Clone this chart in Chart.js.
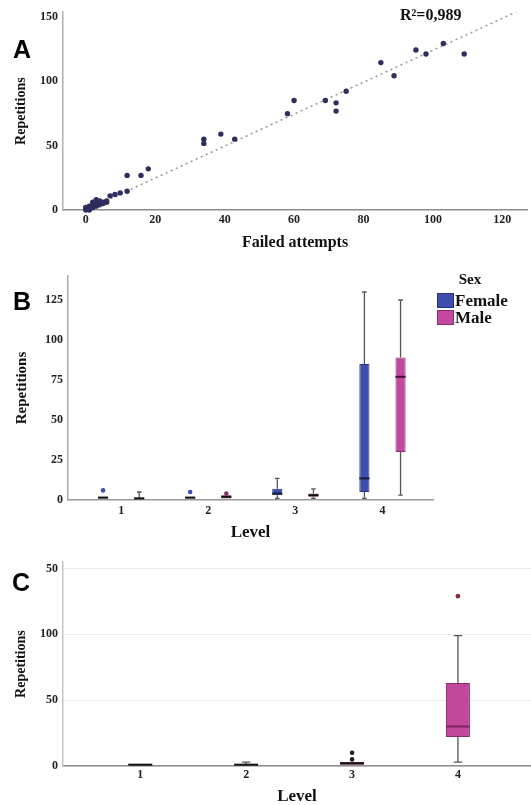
<!DOCTYPE html>
<html><head><meta charset="utf-8">
<script src="https://cdn.jsdelivr.net/npm/chart.js@4.4.1/dist/chart.umd.min.js"></script>
<style>
html,body{margin:0;padding:0;background:#fff;}
body{width:531px;height:805px;position:relative;overflow:hidden;}
.panel{position:absolute;left:0;width:531px;}
.lab{position:absolute;font-family:"Liberation Sans",Arial,sans-serif;font-weight:bold;font-size:25px;line-height:25px;color:#000;}
.serif{position:absolute;font-family:"Liberation Serif",serif;font-weight:bold;color:#111;white-space:nowrap;}
.sw{position:absolute;width:15px;height:13px;}
</style></head><body>
<div class="panel" style="top:0;height:258px"><canvas id="cA" width="531" height="258"></canvas></div>
<div class="panel" style="top:260px;height:288px"><canvas id="cB" width="531" height="288"></canvas></div>
<div class="panel" style="top:550px;height:255px"><canvas id="cC" width="531" height="255"></canvas></div>

<div class="lab" style="left:13px;top:37px">A</div>
<div class="lab" style="left:13px;top:289px">B</div>
<div class="lab" style="left:12px;top:570px">C</div>

<div class="serif" style="left:400px;top:7px;font-size:16px;line-height:16px">R²=0,989</div>

<div class="serif" style="left:440px;top:272px;width:60px;text-align:center;font-size:15px;line-height:15px">Sex</div>
<div class="sw" style="left:437px;top:293px;background:#3d4fae;border:1px solid #26337a"></div>
<div class="sw" style="left:437px;top:310px;background:#c4489e;border:1px solid #8a2e6e"></div>
<div class="serif" style="left:455px;top:292px;font-size:17px;line-height:17px">Female</div>
<div class="serif" style="left:455px;top:309px;font-size:17px;line-height:17px">Male</div>

<script>
// ---------- Panel A data ----------
const failedAttempts = [0,0,0,1,1,1,1,2,2,2,2,3,3,3,3,3,4,4,4,4,5,5,6,6,7,8.4,9.9,11.9,11.9,15.9,18,34,34,38.9,42.9,58.1,60,69,72.1,72.1,75,85,88.8,95.1,98,103,109];
const repetitionsA = [0,1,2,0,1,2,3,2,3,4,6,3,4,5,7,8,4,5,6,7,5,6,6,7,11,12,13.3,14.6,26.9,26.9,32,51.8,55.1,59,55.1,74.9,85.1,85.1,83.3,76.9,92.3,114.6,104.4,124.4,121.3,129.5,121.3];
const trendX = [0, 124];
const trendY = [0, 154];
const xTicksA = [0,20,40,60,80,100,120];
const yTicksA = [0,50,100,150];

// ---------- Panel B data ----------
const levels = [1,2,3,4];
const femaleQ1 = [1,1,3,5];
const femaleQ3 = [2,2,7,85];
const femaleMedian = [1.5,1.5,4,13.5];
const femaleLow = [1,1,1,1];
const femaleHigh = [2,2,13.5,130];
const femaleOutliers = [[6],[5],[],[]];
const maleQ1 = [0.5,1,2,30];
const maleQ3 = [1.5,3,4,89];
const maleMedian = [1,2,3,77];
const maleLow = [0.5,1,1,3];
const maleHigh = [5,3,7,125];
const maleOutliers = [[],[4],[],[]];
const yTicksB = [0,25,50,75,100,125];

// ---------- Panel C data ----------
const allQ1 = [1,1,1,22];
const allQ3 = [1.5,1.5,3,63];
const allMedian = [1,1,2,30];
const allLow = [1,1,1,3];
const allHigh = [1,3,3,99];
const allOutliers = [[],[],[5,10],[129]];
const yTicksC = [0,50,100,150];
const yTickLabelsC = ['0','50','100','50'];

Chart.defaults.font.family = '"Liberation Serif", serif';
Chart.defaults.font.weight = 'bold';
Chart.defaults.color = '#222';
Chart.defaults.animation = false;

const boxPlugin = {
  id: 'boxWhisker',
  beforeDatasetsDraw(chart) {
    const ctx = chart.ctx, ys = chart.scales.y;
    chart.data.datasets.forEach((ds, i) => {
      if (!ds.stats) return;
      const s = ds.stats;
      chart.getDatasetMeta(i).data.forEach((bar, j) => {
        const x = bar.x, w = bar.width, cw = w * ds.capRatio;
        const pLow = ys.getPixelForValue(s.low[j]), pHigh = ys.getPixelForValue(s.high[j]);
        const pQ1 = ys.getPixelForValue(s.q1[j]), pQ3 = ys.getPixelForValue(s.q3[j]);
        ctx.save();
        ctx.strokeStyle = ds.whiskerColor; ctx.lineWidth = 1.3;
        ctx.beginPath();
        if (s.high[j] > s.q3[j]) {
          ctx.moveTo(x, pQ3); ctx.lineTo(x, pHigh);
          ctx.moveTo(x - cw/2, pHigh); ctx.lineTo(x + cw/2, pHigh);
        }
        if (s.low[j] < s.q1[j]) {
          ctx.moveTo(x, pQ1); ctx.lineTo(x, pLow);
          ctx.moveTo(x - cw/2, pLow); ctx.lineTo(x + cw/2, pLow);
        }
        ctx.stroke();
        ctx.restore();
      });
    });
  },
  afterDatasetsDraw(chart) {
    const ctx = chart.ctx, ys = chart.scales.y;
    chart.data.datasets.forEach((ds, i) => {
      if (!ds.stats) return;
      const s = ds.stats;
      chart.getDatasetMeta(i).data.forEach((bar, j) => {
        const x = bar.x, w = bar.width;
        const pMed = ys.getPixelForValue(s.median[j]);
        ctx.save();
        const collapsed = (s.q3[j] - s.q1[j]) < 4;
        ctx.strokeStyle = collapsed ? '#111' : ds.medianColor;
        ctx.lineWidth = 2;
        ctx.beginPath(); ctx.moveTo(x - w/2, pMed); ctx.lineTo(x + w/2, pMed); ctx.stroke();
        (s.outliers[j] || []).forEach(v => {
          ctx.fillStyle = ds.outlierColors[j];
          ctx.beginPath(); ctx.arc(x, ys.getPixelForValue(v), 2.3, 0, Math.PI*2); ctx.fill();
        });
        ctx.restore();
      });
    });
  }
};

function tickSetter(arr) { return s => { s.ticks = arr.map(v => ({ value: v })); }; }

// ---------- Chart A ----------
new Chart(document.getElementById('cA'), {
  type: 'scatter',
  data: {
    datasets: [
      { data: failedAttempts.map((x, i) => ({ x, y: repetitionsA[i] })),
        pointRadius: 2.7, pointBackgroundColor: '#2d2d5e', pointBorderWidth: 0, clip: false, order: 0 },
      { type: 'line', data: trendX.map((x, i) => ({ x, y: trendY[i] })),
        borderColor: '#9a9a9a', borderWidth: 1.6, borderDash: [2, 3.5], pointRadius: 0, order: 1 }
    ]
  },
  options: {
    responsive: false,
    layout: { padding: { top: 10, right: 0, left: 0, bottom: 0 } },
    plugins: { legend: { display: false }, tooltip: { enabled: false } },
    scales: {
      x: { type: 'linear', min: -6.57, max: 127.1, afterBuildTicks: tickSetter(xTicksA),
        grid: { display: false, drawTicks: false }, border: { display: true, color: '#8c8c8c', width: 1.5 },
        ticks: { padding: 3, font: { size: 12, weight: 'bold' }, color: '#222' },
        title: { display: true, text: 'Failed attempts', font: { size: 16, weight: 'bold' }, color: '#111', padding: { top: 0, bottom: 6 } },
        afterFit: s => { s.height = 48; } },
      y: { type: 'linear', min: 0, max: 153.8, afterBuildTicks: tickSetter(yTicksA),
        grid: { display: false, drawTicks: false }, border: { display: true, color: '#b0b0b0', width: 1.5 },
        ticks: { padding: 5, font: { size: 12, weight: 'bold' }, color: '#222' },
        title: { display: true, text: 'Repetitions', font: { size: 14, weight: 'bold' }, color: '#111', padding: { top: 13, bottom: 0 } },
        afterFit: s => { s.width = 63; } }
    }
  }
});

// ---------- Chart B ----------
new Chart(document.getElementById('cB'), {
  type: 'bar',
  data: {
    datasets: [
      { label: 'Female', data: levels.map((l, i) => ({ x: l, y: [femaleQ1[i], femaleQ3[i]] })),
        backgroundColor: '#3d4fae', borderColor: '#26337a', borderWidth: 1, borderSkipped: false,
        categoryPercentage: 0.83, barPercentage: 0.28,
        stats: { q1: femaleQ1, q3: femaleQ3, median: femaleMedian, low: femaleLow, high: femaleHigh, outliers: femaleOutliers },
        whiskerColor: '#555', medianColor: '#1b1b3a', capRatio: 0.45, outlierColors: ['#3d4fae','#3d4fae','#3d4fae','#3d4fae'] },
      { label: 'Male', data: levels.map((l, i) => ({ x: l, y: [maleQ1[i], maleQ3[i]] })),
        backgroundColor: '#c4489e', borderColor: '#8a2e6e', borderWidth: 1, borderSkipped: false,
        categoryPercentage: 0.83, barPercentage: 0.28,
        stats: { q1: maleQ1, q3: maleQ3, median: maleMedian, low: maleLow, high: maleHigh, outliers: maleOutliers },
        whiskerColor: '#555', medianColor: '#4a0d36', capRatio: 0.45, outlierColors: ['#8a2e6e','#7a3a5e','#8a2e6e','#8a2e6e'] }
    ]
  },
  options: {
    responsive: false,
    layout: { padding: { top: 16, right: 98, left: 0, bottom: 0 } },
    plugins: { legend: { display: false }, tooltip: { enabled: false } },
    scales: {
      x: { type: 'linear', offset: false, min: 0.39, max: 4.58, afterBuildTicks: tickSetter(levels),
        grid: { display: false, drawTicks: false, offset: false }, border: { display: true, color: '#999', width: 1.5 },
        ticks: { padding: 4, font: { size: 12, weight: 'bold' }, color: '#222' },
        title: { display: true, text: 'Level', font: { size: 17, weight: 'bold' }, color: '#111', padding: { top: 0, bottom: 5 } },
        afterFit: s => { s.height = 48; } },
      y: { type: 'linear', min: 0, max: 140, afterBuildTicks: tickSetter(yTicksB),
        grid: { display: false, drawTicks: false }, border: { display: true, color: '#aaa', width: 1.5 },
        ticks: { padding: 5, font: { size: 12, weight: 'bold' }, color: '#222' },
        title: { display: true, text: 'Repetitions', font: { size: 15, weight: 'bold' }, color: '#111', padding: { top: 13, bottom: 0 } },
        afterFit: s => { s.width = 68; } }
    }
  },
  plugins: [boxPlugin]
});

// ---------- Chart C ----------
new Chart(document.getElementById('cC'), {
  type: 'bar',
  data: {
    datasets: [
      { label: 'All', data: levels.map((l, i) => ({ x: l, y: [allQ1[i], allQ3[i]] })),
        backgroundColor: '#c2489c', borderColor: '#8a2e6e', borderWidth: 1, borderSkipped: false,
        categoryPercentage: 0.8, barPercentage: 0.283,
        stats: { q1: allQ1, q3: allQ3, median: allMedian, low: allLow, high: allHigh, outliers: allOutliers },
        whiskerColor: '#555', medianColor: '#7a2460', capRatio: 0.35, outlierColors: ['#222','#222','#222','#8b2a3a'] }
    ]
  },
  options: {
    responsive: false,
    layout: { padding: { top: 12, right: 0, left: 0, bottom: 0 } },
    plugins: { legend: { display: false }, tooltip: { enabled: false } },
    scales: {
      x: { type: 'linear', offset: false, min: 0.27, max: 4.69, afterBuildTicks: tickSetter(levels),
        grid: { display: false, drawTicks: false, offset: false }, border: { display: true, color: '#8c8c8c', width: 1.5 },
        ticks: { padding: 2, font: { size: 12, weight: 'bold' }, color: '#222' },
        title: { display: true, text: 'Level', font: { size: 17, weight: 'bold', lineHeight: 1.0 }, color: '#111', padding: { top: 0, bottom: 0 } },
        afterFit: s => { s.height = 39; } },
      y: { type: 'linear', min: 0, max: 154.8, afterBuildTicks: tickSetter(yTicksC),
        grid: { display: true, drawTicks: false, color: '#ececec', lineWidth: 1 }, border: { display: true, color: '#c4c4c4', width: 1.5 },
        ticks: { padding: 5, font: { size: 12, weight: 'bold' }, color: '#222',
          callback: (v) => yTickLabelsC[yTicksC.indexOf(v)] },
        title: { display: true, text: 'Repetitions', font: { size: 14, weight: 'bold' }, color: '#111', padding: { top: 13, bottom: 0 } },
        afterFit: s => { s.width = 63; } }
    }
  },
  plugins: [boxPlugin]
});
</script>
</body></html>
